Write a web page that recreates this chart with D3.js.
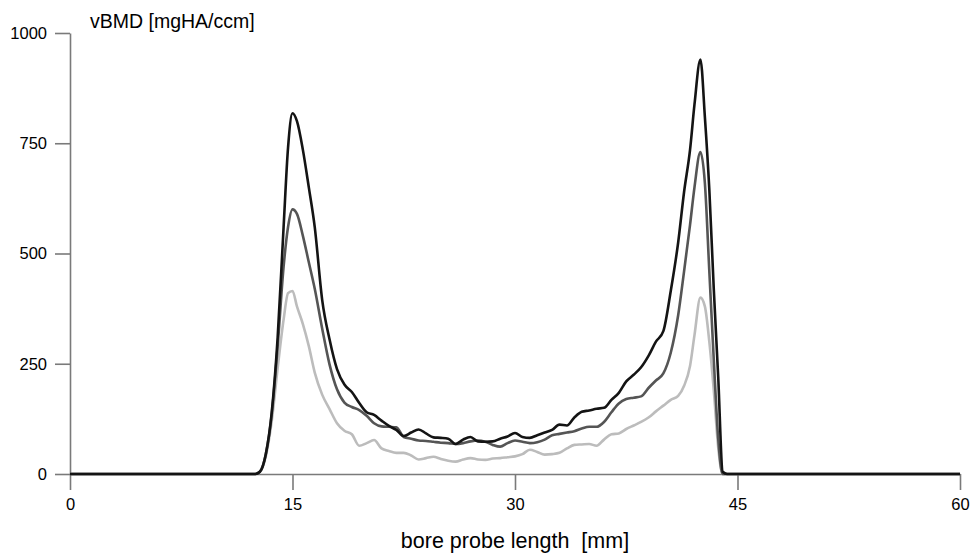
<!DOCTYPE html>
<html>
<head>
<meta charset="utf-8">
<script src="https://cdn.jsdelivr.net/npm/d3@7"></script>
<style>
  body { margin: 0; background: #fff; }
  svg text { font-family: "Liberation Sans", Arial, sans-serif; fill: #000; }
</style>
</head>
<body>
<div id="chart"></div>
<script>
// bore probe position (mm), shared by all three profiles
const positions = [0, 12.5, 12.8, 13.2, 13.6, 14.0, 14.4, 14.7, 15.0, 15.3, 15.7, 16.1, 16.5,
  17.0, 17.5, 18.0, 18.5, 19.0, 19.5, 20.0, 20.5, 21.0, 21.5, 22.0, 22.5, 23.0, 23.5, 24.0, 24.5,
  25.0, 25.5, 26.0, 26.5, 27.0, 27.5, 28.0, 28.5, 29.0, 29.5, 30.0, 30.5, 31.0, 31.5, 32.0, 32.5,
  33.0, 33.5, 34.0, 34.5, 35.0, 35.5, 36.0, 36.5, 37.0, 37.5, 38.0, 38.5, 39.0, 39.5, 40.0, 40.5,
  41.0, 41.4, 41.8, 42.1, 42.5, 42.8, 43.1, 43.4, 43.7, 44.0, 44.3, 60];

// vBMD profiles [mgHA/ccm]
const darkProfile = [0, 0, 5, 45, 140, 310, 560, 740, 818, 800, 735, 650, 560,
  395, 305, 238, 203, 186, 161, 140, 134, 121, 109, 100, 86, 94, 101, 92, 83,
  82, 80, 68, 78, 84, 74, 73, 74, 80, 85, 93, 84, 82, 88, 94, 100,
  112, 110, 128, 141, 144, 148, 150, 168, 184, 210, 225, 242, 268, 300, 324, 415,
  525, 640, 735, 838, 940, 810, 645, 420, 220, 5, 0, 0];

const midProfile = [0, 0, 5, 45, 135, 290, 470, 560, 600, 590, 540, 480, 420,
  330, 248, 192, 162, 152, 145, 132, 115, 108, 107, 106, 84, 80, 76, 75, 73,
  71, 70, 68, 70, 74, 76, 73, 66, 62, 70, 76, 73, 70, 72, 78, 88,
  91, 94, 97, 103, 107, 107, 118, 140, 160, 170, 173, 176, 195, 212, 228, 275,
  360, 460, 565, 650, 730, 660, 460, 260, 80, 0, 0, 0];

const lightProfile = [0, 0, 5, 40, 120, 240, 350, 410, 415, 380, 340, 290, 230,
  180, 147, 115, 98, 90, 64, 70, 77, 58, 52, 48, 48, 42, 33, 36, 39,
  34, 30, 28, 33, 36, 33, 32, 35, 36, 38, 40, 45, 55, 50, 44, 45,
  48, 58, 66, 67, 68, 64, 78, 90, 92, 102, 110, 118, 128, 142, 155, 168,
  177, 200, 245, 315, 400, 380, 300, 190, 60, 0, 0, 0];

const xTicks = [0, 15, 30, 45, 60];
const yTicks = [0, 250, 500, 750, 1000];

const width = 976, height = 558;
const margin = {top: 33, right: 16, bottom: 84, left: 70};

const svg = d3.select("#chart")
    .append("svg")
    .attr("width", width)
    .attr("height", height);

const x = d3.scaleLinear()
    .domain([0, 60])
    .range([margin.left, width - margin.right]);

const y = d3.scaleLinear()
    .domain([0, 1000])
    .range([height - margin.bottom, margin.top]);

// axes
const xAxis = svg.append("g")
    .attr("transform", `translate(0,${height - margin.bottom})`)
    .call(d3.axisBottom(x).tickValues(xTicks).tickFormat(d3.format("d"))
        .tickSize(16).tickSizeOuter(0).tickPadding(8));

const yAxis = svg.append("g")
    .attr("transform", `translate(${margin.left},0)`)
    .call(d3.axisLeft(y).tickValues(yTicks).tickFormat(d3.format("d"))
        .tickSize(15).tickSizeOuter(0).tickPadding(8));

[xAxis, yAxis].forEach(g => {
    g.selectAll("path, line")
        .attr("stroke", "#7a7a7a")
        .attr("stroke-width", 1.6);
    g.selectAll("text")
        .style("font-size", "16.5px")
        .style("font-family", "'Liberation Sans', Arial, sans-serif")
        .attr("fill", "#000");
});

// profiles, lightest drawn first
const series = [
    {values: lightProfile, color: "#bcbcbc"},
    {values: midProfile, color: "#555555"},
    {values: darkProfile, color: "#141414"}
];

const line = d3.line()
    .x((d, i) => x(positions[i]))
    .y(d => y(d))
    .curve(d3.curveMonotoneX);

series.forEach(s => {
    svg.append("path")
        .datum(s.values)
        .attr("fill", "none")
        .attr("stroke", s.color)
        .attr("stroke-width", 2.6)
        .attr("stroke-linejoin", "round")
        .attr("d", line);
});

// axis titles
svg.append("text")
    .attr("x", 90)
    .attr("y", 28)
    .style("font-size", "19.5px")
    .text("vBMD [mgHA/ccm]");

svg.append("text")
    .attr("x", (x(0) + x(60)) / 2)
    .attr("y", 548)
    .attr("text-anchor", "middle")
    .style("font-size", "21.5px")
    .style("white-space", "pre")
    .text("bore probe length  [mm]");
</script>
</body>
</html>
